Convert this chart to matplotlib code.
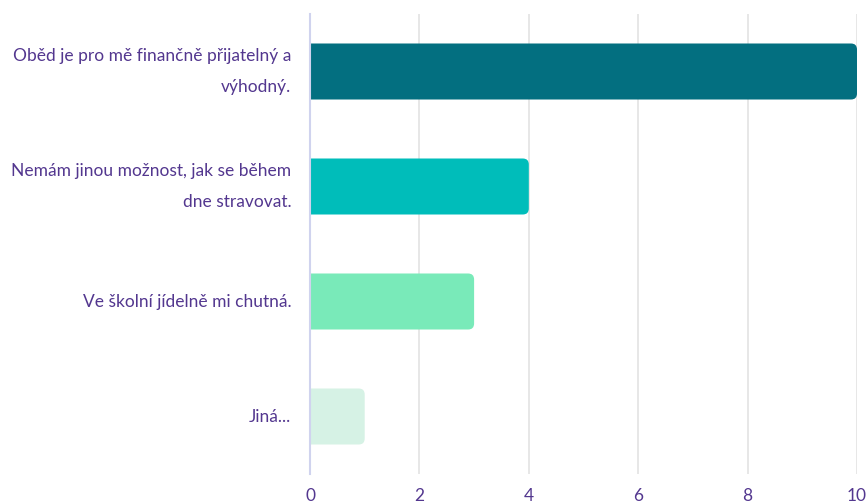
import matplotlib.pyplot as plt
from matplotlib.path import Path
from matplotlib.patches import PathPatch

labels = [
    "Oběd je pro mě finančně přijatelný a\nvýhodný.",
    "Nemám jinou možnost, jak se během\ndne stravovat.",
    "Ve školní jídelně mi chutná.",
    "Jiná...",
]
values = [10, 4, 3, 1]
colors = ["#036F80", "#00BDBA", "#79EAB9", "#D6F2E5"]
ticks = [0, 2, 4, 6, 8, 10]

TEXT = "#53378F"
plt.rcParams["font.family"] = ["Lato", "DejaVu Sans"]


def right_rounded(x, y, w, h, rx, ry):
    """Path of a bar with rounded right-hand corners."""
    x1, y1 = x + w, y + h
    verts = [(x, y), (x1 - rx, y), (x1, y), (x1, y + ry),
             (x1, y1 - ry), (x1, y1), (x1 - rx, y1), (x, y1), (x, y)]
    codes = [Path.MOVETO, Path.LINETO, Path.CURVE3, Path.CURVE3,
             Path.LINETO, Path.CURVE3, Path.CURVE3, Path.LINETO, Path.CLOSEPOLY]
    return Path(verts, codes)


fig = plt.figure(figsize=(8.67, 5.01), dpi=100)
ax = fig.add_axes([310 / 867, 1 - 474 / 501, 547 / 867, 460 / 501])

pos = list(range(len(values)))
bars = ax.barh(pos, values, height=0.487, color=colors)

# replace plain bars with ones that have rounded right ends
xunit = 547 / 10
yunit = 460 / 4
for b, c in zip(bars, colors):
    b.set_visible(False)
    p = right_rounded(b.get_x(), b.get_y(), b.get_width(), b.get_height(),
                      6 / xunit, 6 / yunit)
    ax.add_patch(PathPatch(p, facecolor=c, edgecolor="none", zorder=3))

ax.set_xlim(0, 10)
ax.set_ylim(3.5, -0.5)
ax.set_xticks(ticks)
ax.set_xticklabels([str(t) for t in ticks])
ax.set_yticks(pos)
ax.set_yticklabels(labels, ha="right", va="center", linespacing=2.1)

ax.tick_params(axis="x", length=0, pad=10, labelsize=12.5, labelcolor=TEXT)
ax.tick_params(axis="y", length=0, pad=13.5, labelsize=12.5, labelcolor=TEXT)

ax.grid(axis="x", color="#E3E3E3", linewidth=1.2, zorder=0)
ax.grid(axis="y", visible=False)
for s in ["top", "right", "bottom"]:
    ax.spines[s].set_visible(False)
ax.spines["left"].set_color("#D0D3EE")
ax.spines["left"].set_linewidth(1.5)
ax.spines["left"].set_zorder(4)
ax.set_axisbelow(True)

fig.savefig("out.png", dpi=100)
